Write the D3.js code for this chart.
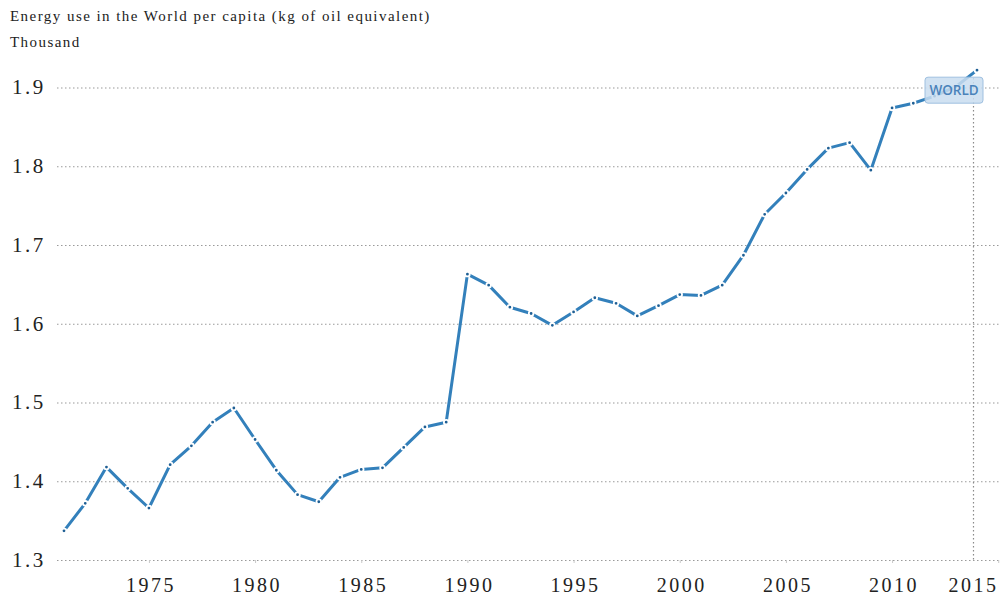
<!DOCTYPE html>
<html>
<head>
<meta charset="utf-8">
<script src="https://cdn.jsdelivr.net/npm/d3@7"></script>
<style>
  body { margin: 0; background: #fff; }
  svg { display: block; }
</style>
</head>
<body>
<div id="chart"></div>
<script>
// World Bank: energy use per capita, World (thousand kg of oil equivalent)
var years = [1971, 1972, 1973, 1974, 1975, 1976, 1977, 1978, 1979, 1980,
             1981, 1982, 1983, 1984, 1985, 1986, 1987, 1988, 1989, 1990,
             1991, 1992, 1993, 1994, 1995, 1996, 1997, 1998, 1999, 2000,
             2001, 2002, 2003, 2004, 2005, 2006, 2007, 2008, 2009, 2010,
             2011, 2012, 2013, 2014];
var energyUse = [1.337, 1.372, 1.418, 1.391, 1.366, 1.421, 1.445, 1.475, 1.493, 1.453,
                 1.414, 1.383, 1.374, 1.405, 1.415, 1.417, 1.443, 1.469, 1.475, 1.663,
                 1.649, 1.621, 1.613, 1.598, 1.615, 1.633, 1.626, 1.610, 1.623, 1.637,
                 1.636, 1.649, 1.687, 1.739, 1.766, 1.796, 1.823, 1.830, 1.795, 1.874,
                 1.880, 1.889, 1.901, 1.922];
var xTicks = [1975, 1980, 1985, 1990, 1995, 2000, 2005, 2010, 2015];
var yTicks = [1.3, 1.4, 1.5, 1.6, 1.7, 1.8, 1.9];
var title = "Energy use in the World per capita (kg of oil equivalent)";
var unitLabel = "Thousand";
var seriesName = "WORLD";

var data = years.map(function (y, i) {
  return { year: y, value: energyUse[i] };
});

var width = 1001;
var height = 607;
var gridLeft = 57;
var serif = "'Liberation Serif', 'Times New Roman', serif";

var xScale = d3.scaleLinear()
               .domain([1971, 2014])
               .range([64, 977]);

var yScale = d3.scaleLinear()
               .domain([1.3, 1.9])
               .range([560, 87.5]);

var svg = d3.select("#chart").append("svg")
            .attr("width", width)
            .attr("height", height);

// titles
svg.append("text")
   .attr("x", 10)
   .attr("y", 21)
   .style("font-family", serif)
   .style("font-size", "15px")
   .style("letter-spacing", "1.45px")
   .attr("fill", "#222")
   .text(title);

svg.append("text")
   .attr("x", 10)
   .attr("y", 47)
   .style("font-family", serif)
   .style("font-size", "15px")
   .style("letter-spacing", "1.45px")
   .attr("fill", "#222")
   .text(unitLabel);

// y gridlines + labels
var yAxis = d3.axisLeft(yScale)
              .tickValues(yTicks)
              .tickFormat(d3.format(".1f"))
              .tickSize(-(width - gridLeft))
              .tickPadding(12);

var gy = svg.append("g")
            .attr("transform", "translate(" + gridLeft + ",0)")
            .call(yAxis);
gy.select(".domain").remove();
gy.selectAll(".tick line")
  .attr("stroke", "#9a9a9a")
  .attr("stroke-width", 1.2)
  .attr("stroke-dasharray", "1.5,2.5");
gy.selectAll(".tick text")
  .attr("text-anchor", "start")
  .attr("x", 12 - gridLeft)
  .attr("dy", "0.3em")
  .attr("fill", "#222")
  .style("font-family", serif)
  .style("font-size", "21px")
  .style("letter-spacing", "2.5px");

// x axis
var xAxis = d3.axisBottom(xScale)
              .tickValues(xTicks)
              .tickFormat(d3.format("d"))
              .tickSize(3)
              .tickPadding(15);

var gx = svg.append("g")
            .attr("transform", "translate(0,560)")
            .call(xAxis);
gx.select(".domain").remove();
gx.selectAll(".tick line").attr("stroke", "#c8c8c8");
gx.selectAll(".tick text")
  .attr("x", 1.5)
  .attr("fill", "#222")
  .style("font-family", serif)
  .style("font-size", "20px")
  .style("letter-spacing", "2.5px");
// last label would fall off the edge, keep it inside like the original
gx.selectAll(".tick")
  .filter(function (d) { return d === 2015; })
  .select("text")
  .attr("text-anchor", "end")
  .attr("x", 998 - xScale(2015));

// hover crosshair at the last point
var last = data[data.length - 1];
svg.append("line")
   .attr("x1", xScale(last.year) - 3.5)
   .attr("x2", xScale(last.year) - 3.5)
   .attr("y1", 78)
   .attr("y2", 560)
   .attr("stroke", "#8a8a8a")
   .attr("stroke-width", 1.2)
   .attr("stroke-dasharray", "1.5,2.5");

// line
var lineColor = "#3380bb";
svg.append("path")
   .datum(data)
   .attr("fill", "none")
   .attr("stroke", lineColor)
   .attr("stroke-width", 3)
   .attr("stroke-linejoin", "round")
   .attr("d", d3.line()
     .x(d => xScale(d.year))
     .y(d => yScale(d.value)));

// point markers (white ring gives the dash-dot look)
svg.selectAll(".dot")
   .data(data)
   .enter().append("circle")
   .attr("class", "dot")
   .attr("cx", d => xScale(d.year))
   .attr("cy", d => yScale(d.value))
   .attr("r", 2.3)
   .attr("fill", "#1f5f94")
   .attr("stroke", "#fff")
   .attr("stroke-width", 1.8);

// series label box
var lx = xScale(last.year) - 52;
var ly = yScale(last.value) + 7;
var lab = svg.append("g").attr("transform", "translate(" + lx + "," + ly + ")");
lab.append("rect")
   .attr("width", 58)
   .attr("height", 26)
   .attr("rx", 3)
   .attr("fill", "#c9ddf0")
   .attr("fill-opacity", 0.85)
   .attr("stroke", "#9fc0e0")
   .attr("stroke-width", 1);
lab.append("text")
   .attr("x", 29)
   .attr("y", 18)
   .attr("text-anchor", "middle")
   .attr("fill", "#4a82ba")
   .style("font-family", "'Open Sans', sans-serif")
   .style("font-size", "13.5px")
   .style("font-weight", "600")
   .text(seriesName);
</script>
</body>
</html>
